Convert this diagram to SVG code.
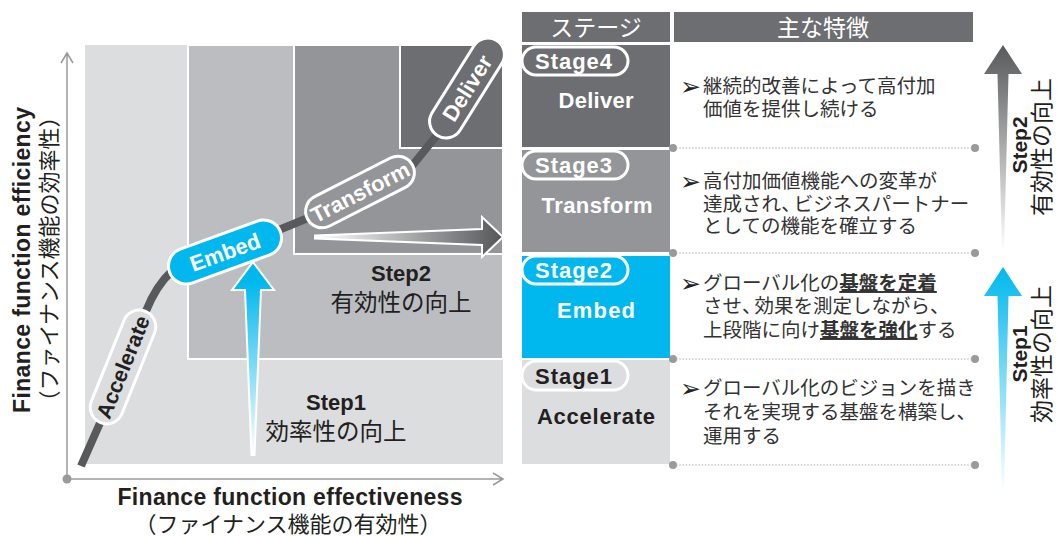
<svg xmlns="http://www.w3.org/2000/svg" width="1057" height="536" viewBox="0 0 1057 536">
<defs>
<style>
.en{font-family:"Liberation Sans",Arial,"Noto Sans CJK JP",sans-serif;font-weight:bold}
.jp{font-family:"Noto Sans CJK JP","Liberation Sans",sans-serif}
.dk{fill:#231f20}
.wh{fill:#fff}
.pill{stroke:#fff;stroke-width:3}
.dot{fill:#9a9a9c}
.dl{stroke:#9a9a9c;stroke-width:1.2;stroke-dasharray:1.2 2;fill:none}
.axis{stroke:#9a9a9c;stroke-width:1.5;fill:none}
.body{font-family:"Noto Sans CJK JP",sans-serif;font-size:19.5px;fill:#333}
.bul{font-family:"DejaVu Sans",sans-serif;font-size:25px;fill:#222}
.b{font-weight:bold;text-decoration:underline}
</style>
<linearGradient id="gH" x1="0" y1="0" x2="1" y2="0"><stop offset="0" stop-color="#ffffff"/><stop offset="1" stop-color="#555658"/></linearGradient>
<linearGradient id="gBlueChart" x1="0" y1="0" x2="0" y2="1"><stop offset="0.1" stop-color="#00b8ee"/><stop offset="1" stop-color="#ffffff"/></linearGradient>
<linearGradient id="gGray" x1="0" y1="0" x2="0" y2="1"><stop offset="0" stop-color="#58595b"/><stop offset="1" stop-color="#ffffff"/></linearGradient>
<linearGradient id="gBlue" x1="0" y1="0" x2="0" y2="1"><stop offset="0" stop-color="#00b8ee"/><stop offset="1" stop-color="#ffffff"/></linearGradient>
</defs>

<g id="chart-areas">
<rect x="85" y="45" width="418" height="419" fill="#dcdddf"/>
<rect x="188" y="45" width="315" height="314" fill="#bcbdc0" stroke="#fff" stroke-width="2"/>
<rect x="294" y="45" width="209" height="209" fill="#939598" stroke="#fff" stroke-width="2"/>
<rect x="400" y="45" width="103" height="103" fill="#6d6e71" stroke="#fff" stroke-width="2"/>
</g>

<g id="axes">
<path class="axis" d="M67 479 V53 M61 63 L67 53 L73 63 M67 479 H503 M493 473 L503 479 L493 485"/>
<circle cx="67" cy="479" r="4.5" class="dot"/>
<text class="en dk" font-size="23" transform="translate(30,260) rotate(-90)" text-anchor="middle" textLength="306">Finance function efficiency</text>
<text class="jp dk" font-size="22" transform="translate(57,259) rotate(-90)" text-anchor="middle">（ファイナンス機能の効率性）</text>
<text class="en dk" x="290" y="505" font-size="23" text-anchor="middle" textLength="345">Finance function effectiveness</text>
<text class="jp dk" x="288" y="532" font-size="22" text-anchor="middle">（ファイナンス機能の有効性）</text>
</g>

<g id="step-labels-chart">
<text class="en dk" x="401" y="281" font-size="22" text-anchor="middle">Step2</text>
<text class="jp dk" x="401" y="311" font-size="23.5" text-anchor="middle">有効性の向上</text>
<text class="en dk" x="336" y="410" font-size="22" text-anchor="middle">Step1</text>
<text class="jp dk" x="336" y="440" font-size="23.5" text-anchor="middle">効率性の向上</text>
</g>

<g id="connectors">
<path d="M315 235.5 L482 229 L482 217 L503 237 L482 257 L482 245 L315 238.5 Z" fill="url(#gH)" stroke="#fff" stroke-width="2"/>
<path d="M253 262 L274 290 L261 290 L254.5 455 L251.5 455 L245 290 L232 290 Z" fill="url(#gBlueChart)" stroke="#fff" stroke-width="2"/>
<path d="M81 466 L100 423 L146 311 C152 296 160 282 172 271 L225 252 L308 218 L412 166 L437 135 L480 67" fill="none" stroke="#58595b" stroke-width="8" stroke-linejoin="round"/>
<path d="M1003 45 L1022 74 L1008.5 74 L1004 252 L1002 252 L997.5 74 L984 74 Z" fill="url(#gGray)"/>
<path d="M1003 267 L1022 296 L1008.5 296 L1004 492 L1002 492 L997.5 296 L984 296 Z" fill="url(#gBlue)"/>
</g>

<g id="pill-accelerate" transform="translate(123,367) rotate(-68)">
<rect x="-60" y="-16.5" width="120" height="33" rx="16.5" fill="#dcdddf" class="pill"/>
<text class="en dk" font-size="21.5" text-anchor="middle" y="7.5">Accelerate</text>
</g>
<g id="pill-embed" transform="translate(225,252) rotate(-20)">
<rect x="-59" y="-18" width="118" height="36" rx="18" fill="#00b8ee" class="pill"/>
<text class="en wh" font-size="22" text-anchor="middle" y="8">Embed</text>
</g>
<g id="pill-transform" transform="translate(360,192) rotate(-27)">
<rect x="-59" y="-16.5" width="118" height="33" rx="16.5" fill="#939598" class="pill"/>
<text class="en wh" font-size="22" text-anchor="middle" y="8">Transform</text>
</g>
<g id="pill-deliver" transform="translate(467,88) rotate(-58)">
<rect x="-56" y="-16.5" width="112" height="33" rx="16.5" fill="#6d6e71" class="pill"/>
<text class="en wh" font-size="22" text-anchor="middle" y="8">Deliver</text>
</g>

<g id="table-header">
<rect x="522" y="12" width="148" height="30" fill="#6d6e71"/>
<rect x="674" y="12" width="299" height="30" fill="#6d6e71"/>
<text class="jp wh" x="596" y="35.5" font-size="23" text-anchor="middle">ステージ</text>
<text class="jp wh" x="823" y="35.5" font-size="23" text-anchor="middle">主な特徴</text>
</g>

<g id="stage4">
<rect x="522" y="45" width="148" height="102" fill="#6d6e71"/>
<rect x="522" y="47" width="106" height="28" rx="14" fill="#6d6e71" class="pill"/>
<text class="en wh" x="535" y="69" font-size="22" textLength="77">Stage4</text>
<text class="en wh" x="596" y="108" font-size="22" text-anchor="middle" textLength="75">Deliver</text>
<text class="bul" x="680" y="95">➢</text>
<text class="body" x="703" y="93">継続的改善によって高付加</text>
<text class="body" x="703" y="116">価値を提供し続ける</text>
</g>

<g id="stage3">
<rect x="522" y="150" width="148" height="102" fill="#939598"/>
<rect x="522" y="151" width="106" height="28" rx="14" fill="#939598" class="pill"/>
<text class="en wh" x="535" y="173" font-size="22" textLength="77">Stage3</text>
<text class="en wh" x="597" y="213" font-size="22" text-anchor="middle" textLength="111">Transform</text>
<text class="bul" x="680" y="190">➢</text>
<text class="body" x="703" y="188">高付加価値機能への変革が</text>
<text class="body" x="703" y="211">達成され、<tspan dx="-7">ビジネスパートナー</tspan></text>
<text class="body" x="703" y="233">としての機能を確立する</text>
</g>

<g id="stage2">
<rect x="522" y="256" width="148" height="102" fill="#00b8ee"/>
<rect x="522" y="256" width="106" height="28" rx="14" fill="#00b8ee" class="pill"/>
<text class="en wh" x="535" y="278" font-size="22" textLength="77">Stage2</text>
<text class="en wh" x="596" y="318" font-size="22" text-anchor="middle" textLength="78">Embed</text>
<text class="bul" x="680" y="292">➢</text>
<text class="body" x="703" y="290">グローバル化の<tspan class="b">基盤を定着</tspan></text>
<text class="body" x="703" y="313">させ、<tspan dx="-7">効果を測定しながら、</tspan></text>
<text class="body" x="703" y="337">上段階に向け<tspan class="b">基盤を強化</tspan>する</text>
</g>

<g id="stage1">
<rect x="522" y="360" width="148" height="104" fill="#dcdddf"/>
<rect x="522" y="361" width="106" height="29" rx="14.5" fill="#dcdddf" class="pill"/>
<text class="en dk" x="535" y="383.5" font-size="22" textLength="77">Stage1</text>
<text class="en dk" x="596" y="424" font-size="22" text-anchor="middle" textLength="118">Accelerate</text>
<text class="bul" x="680" y="397">➢</text>
<text class="body" x="703" y="395">グローバル化のビジョンを描き</text>
<text class="body" x="703" y="419">それを実現する基盤を構築し、</text>
<text class="body" x="703" y="443">運用する</text>
</g>

<g id="row-dividers">
<path class="dl" d="M673 148 H975 M673 253 H975 M673 359 H975 M673 465 H975"/>
<circle class="dot" cx="673" cy="148" r="4"/><circle class="dot" cx="975" cy="148" r="4"/>
<circle class="dot" cx="673" cy="253" r="4"/><circle class="dot" cx="975" cy="253" r="4"/>
<circle class="dot" cx="673" cy="359" r="4"/><circle class="dot" cx="975" cy="359" r="4"/>
<circle class="dot" cx="673" cy="465" r="4"/><circle class="dot" cx="975" cy="465" r="4"/>
</g>

<g id="step-labels-side">
<text class="en dk" font-size="21" transform="translate(1027,145) rotate(-90)" text-anchor="middle">Step2</text>
<text class="jp dk" font-size="23" transform="translate(1050,147) rotate(-90)" text-anchor="middle">有効性の向上</text>
<text class="en dk" font-size="21" transform="translate(1027,354) rotate(-90)" text-anchor="middle">Step1</text>
<text class="jp dk" font-size="23" transform="translate(1050,354) rotate(-90)" text-anchor="middle">効率性の向上</text>
</g>
</svg>
